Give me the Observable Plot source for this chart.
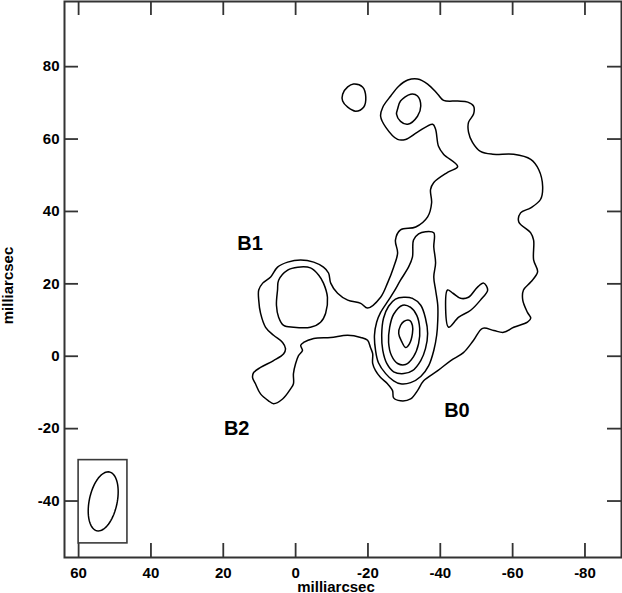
<!DOCTYPE html>
<html>
<head>
<meta charset="utf-8">
<script src="https://cdn.jsdelivr.net/npm/d3@7"></script>
<script src="https://cdn.jsdelivr.net/npm/@observablehq/plot@0.6"></script>
<style>
  html, body { margin: 0; padding: 0; background: #fff; }
  #chart svg { display: block; }
</style>
</head>
<body>
<div id="chart"></div>
<script>
// ---- axis ticks (milliarcsec) ----
const xTicks = [60, 40, 20, 0, -20, -40, -60, -80];
const yTicks = [-40, -20, 0, 20, 40, 60, 80];
const axisLabel = "milliarcsec";

// ---- contour lines, [x, y] in milliarcsec ----
// lowest level: the main extended envelope
const contourLevel1Main = [
  [-31.0,76.3],[-33.7,76.6],[-36.5,75.2],[-39.3,72.4],[-40.9,70.7],[-44.8,70.5],[-47.6,70.2],[-49.2,69.1],
  [-49.2,66.9],[-47.8,64.6],[-47.8,61.9],[-48.9,59.1],[-51.1,56.6],[-54.5,55.8],[-60.3,55.8],[-65.0,54.4],
  [-67.2,51.6],[-68.3,46.9],[-67.7,43.3],[-65.0,41.0],[-62.2,39.6],[-61.7,37.1],[-65.0,34.1],[-65.8,32.1],
  [-65.8,26.6],[-66.9,23.3],[-65.0,20.5],[-63.0,18.3],[-62.8,15.5],[-64.1,12.1],[-65.0,10.5],[-64.1,9.4],
  [-60.3,8.0],[-57.5,6.6],[-54.8,7.1],[-51.7,7.7],[-49.2,4.4],[-46.4,1.0],[-42.9,-1.2],[-39.3,-4.0],
  [-35.4,-6.8],[-33.7,-9.5],[-31.8,-11.8],[-29.0,-12.3],[-27.1,-11.5],[-26.8,-9.5],[-25.4,-7.6],[-23.5,-5.9],
  [-22.1,-4.0],[-21.3,-2.0],[-21.3,0.7],[-20.7,2.4],[-19.9,4.4],[-18.0,5.2],[-14.4,5.8],[-9.7,5.2],
  [-5.0,4.9],[-2.2,3.8],[-1.4,3.0],[-1.9,1.6],[-0.8,0.2],[0.0,-2.0],[0.6,-4.8],[0.6,-7.6],
  [1.4,-9.0],[3.6,-11.8],[6.1,-13.1],[7.5,-12.3],[9.7,-10.4],[11.1,-7.6],[11.9,-5.9],[11.6,-4.5],
  [9.7,-3.1],[6.1,-1.2],[3.3,0.7],[2.8,2.1],[3.6,3.8],[6.1,5.8],[8.3,8.0],[9.7,11.9],
  [10.2,15.5],[10.2,18.3],[9.1,20.2],[6.9,21.9],[5.0,24.6],[2.2,26.0],[-1.4,26.6],[-5.0,26.0],
  [-7.7,24.6],[-9.1,23.0],[-9.7,20.2],[-11.6,17.4],[-14.4,15.5],[-18.0,14.6],[-19.9,13.3],[-23.5,16.3],
  [-25.4,20.2],[-27.1,24.6],[-28.2,28.5],[-27.6,32.1],[-29.0,34.9],[-33.2,35.7],[-36.5,38.5],[-37.6,42.4],
  [-37.3,46.0],[-38.2,48.0],[-42.0,50.8],[-44.8,52.4],[-40.9,55.8],[-39.5,58.0],[-38.7,62.7],[-37.9,64.1],
  [-33.7,61.9],[-30.4,59.9],[-28.2,59.9],[-24.9,63.3],[-23.5,66.3],[-24.1,68.8],[-26.3,71.9],[-28.5,74.6]
];
// lowest level: isolated knot to the north-west
const contourLevel1Knot = [
  [-13.0,72.4],[-14.4,74.4],[-16.0,75.2],[-18.5,74.4],[-19.4,71.6],[-18.8,68.8],[-16.6,67.7],[-14.4,68.8],[-13.0,70.5]
];
// second level
const contourLevel2B1 = [
  [5.0,18.3],[4.7,21.0],[2.2,23.8],[-0.6,24.6],[-4.1,24.4],[-6.4,22.4],[-7.7,20.2],[-8.8,16.3],
  [-8.3,11.9],[-6.9,9.4],[-4.1,8.0],[0.6,8.0],[3.3,8.5],[4.7,10.8],[5.3,14.1]
];
const contourLevel2North = [
  [-28.2,68.3],[-29.0,70.5],[-31.8,72.4],[-33.7,71.9],[-34.6,69.1],[-33.7,66.3],[-31.0,64.1],[-29.0,64.9],[-27.9,66.9]
];
const contourLevel2Pocket = [
  [-42.0,18.3],[-42.3,8.0],[-45.1,10.8],[-48.4,12.7],[-51.1,15.5],[-53.1,18.3],[-52.0,20.2],[-50.3,19.1],
  [-47.8,16.3],[-45.6,16.0],[-43.5,17.4]
];
const contourLevel2Core = [
  [-35.9,34.4],[-38.2,34.1],[-38.2,30.2],[-38.7,25.8],[-38.2,21.9],[-38.7,18.3],[-39.3,14.1],[-39.3,9.9],
  [-39.0,5.8],[-38.2,1.6],[-36.8,-2.6],[-34.6,-5.6],[-31.8,-7.3],[-29.0,-7.6],[-27.1,-6.8],[-24.9,-4.8],
  [-22.9,-1.8],[-22.1,1.6],[-21.8,5.8],[-22.4,9.4],[-23.5,12.1],[-25.7,15.5],[-27.1,17.7],[-29.0,21.0],
  [-31.2,24.6],[-32.3,27.4],[-32.6,32.1],[-34.0,33.8]
];
// higher levels around B0
const contourLevel3Core = [
  [-29.9,16.3],[-32.3,16.0],[-34.6,14.1],[-35.9,10.5],[-36.5,6.3],[-35.9,2.1],[-34.6,-1.2],[-32.3,-4.0],
  [-29.9,-4.8],[-27.1,-4.3],[-25.2,-2.0],[-24.1,1.6],[-23.8,5.8],[-24.3,10.5],[-25.7,13.8],[-27.6,15.8]
];
const contourLevel4Core = [
  [-29.6,14.1],[-31.8,13.5],[-33.5,11.3],[-34.3,7.7],[-34.0,3.5],[-32.6,-0.1],[-30.4,-2.3],[-28.2,-2.0],
  [-26.5,0.2],[-25.7,3.8],[-26.0,8.0],[-27.1,11.6]
];
const contourLevel5Core = [
  [-29.0,8.5],[-29.9,9.6],[-31.5,9.9],[-32.3,8.5],[-32.3,6.3],[-31.5,3.5],[-30.4,2.4],[-29.3,4.1],[-28.5,6.3]
];

// ---- component labels ----
const componentNames = ["B1", "B2", "B0"];
const componentX = [12.6, 16.3, -44.6];
const componentY = [31.0, -20.1, -14.9];

// ---- restoring beam (FWHM, mas; position angle in degrees) ----
const beamCenter = [53.2, -40.1];
const beamMajor = 16.6;
const beamMinor = 7.7;
const beamPA = 12;
const beamBox = [{x1: 60, x2: 46.5, y1: -51.7, y2: -28.7}];

// ---- build tables ----
const contourSets = [
  ["L1-main", contourLevel1Main], ["L1-knot", contourLevel1Knot],
  ["L2-B1", contourLevel2B1], ["L2-north", contourLevel2North],
  ["L2-pocket", contourLevel2Pocket], ["L2-core", contourLevel2Core],
  ["L3-core", contourLevel3Core], ["L4-core", contourLevel4Core], ["L5-core", contourLevel5Core]
];
const contourRows = contourSets.flatMap(([id, pts]) => pts.map(([x, y]) => ({id, x, y})));

const th = beamPA * Math.PI / 180;
const a = beamMajor / 2, b = beamMinor / 2;
const beamRows = d3.range(0, 73).map(i => {
  const t = 2 * Math.PI * i / 72;
  const u = a * Math.cos(t), v = b * Math.sin(t);
  return {x: beamCenter[0] - u * Math.sin(th) + v * Math.cos(th),
          y: beamCenter[1] + u * Math.cos(th) + v * Math.sin(th)};
});
const labelRows = componentNames.map((n, i) => ({n, x: componentX[i], y: componentY[i]}));

const W = 622, H = 593;
const mL = 64, mR = 1, mT = 1, mB = 36;
const plotW = W - mL - mR, plotH = H - mT - mB;
const tickLen = 14;
const axisStroke = "#333";

const chart = Plot.plot({
  width: W, height: H,
  marginLeft: mL, marginRight: mR, marginTop: mT, marginBottom: mB,
  style: {fontFamily: "'Liberation Sans', Arial, sans-serif", fontSize: "15px", fontWeight: "bold", color: "#000", background: "#fff"},
  x: {domain: [63.9, -90.1], ticks: xTicks, tickFormat: d => String(d), tickSize: 0, tickPadding: 10, label: null},
  y: {domain: [-55.6, 98], ticks: yTicks, tickFormat: d => String(d), tickSize: 0, tickPadding: 5, label: null},
  marks: [
    // inward ticks on all four sides
    Plot.tickY(yTicks, {y: d => d, insetRight: plotW - tickLen, stroke: axisStroke, strokeWidth: 1.8}),
    Plot.tickY(yTicks, {y: d => d, insetLeft: plotW - tickLen, stroke: axisStroke, strokeWidth: 1.8}),
    Plot.tickX(xTicks, {x: d => d, insetTop: plotH - tickLen, stroke: axisStroke, strokeWidth: 1.8}),
    Plot.tickX(xTicks, {x: d => d, insetBottom: plotH - tickLen, stroke: axisStroke, strokeWidth: 1.8}),
    // contours
    Plot.line(contourRows, {x: "x", y: "y", z: "id", curve: "catmull-rom-closed", stroke: "#000", strokeWidth: 1.5}),
    // beam
    Plot.rect(beamBox, {x1: "x1", x2: "x2", y1: "y1", y2: "y2", fill: "none", stroke: "#3a3a3a", strokeWidth: 1.6}),
    Plot.line(beamRows, {x: "x", y: "y", stroke: "#000", strokeWidth: 1.5}),
    // component labels
    Plot.text(labelRows, {x: "x", y: "y", text: "n", fontSize: 20, fontWeight: "bold", fill: "#000"}),
    // axis titles
    Plot.text([axisLabel], {frameAnchor: "bottom", textAnchor: "middle", lineAnchor: "bottom", dx: -7, dy: 34, fontSize: 15, fontWeight: "bold", fill: "#000"}),
    Plot.text([axisLabel], {frameAnchor: "left", textAnchor: "middle", lineAnchor: "bottom", rotate: -90, dx: -52, dy: 6, fontSize: 15, fontWeight: "bold", fill: "#000"}),
    Plot.frame({stroke: axisStroke, strokeWidth: 2})
  ]
});
document.getElementById("chart").appendChild(chart);
</script>
</body>
</html>
